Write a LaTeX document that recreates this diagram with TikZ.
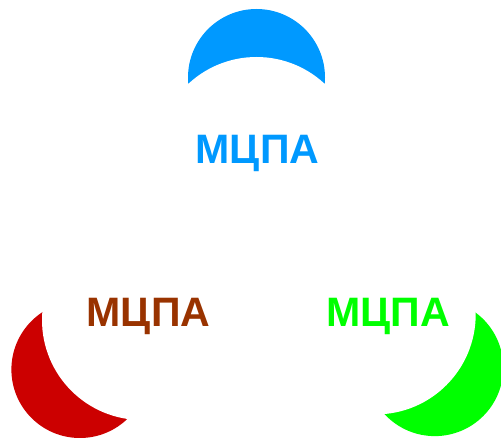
\documentclass[tikz,border=0pt]{standalone}
\usepackage{fontspec}
\setmainfont{Liberation Sans}
\usetikzlibrary{positioning}

\definecolor{mcpablue}{HTML}{0099FF}
\definecolor{mcpared}{HTML}{CC0000}
\definecolor{mcpagreen}{HTML}{00FF00}
\definecolor{mcpabrown}{HTML}{993300}

\tikzset{
  brand/.style={font=\bfseries\fontsize{58.5}{62}\selectfont,inner sep=0pt,anchor=base}
}

\begin{document}
\begin{tikzpicture}[x=0.05cm,y=-0.05cm]
  \useasboundingbox (0,0) rectangle (501,438);
  \clip (0,0) rectangle (501,438);
  % crescents: colour / outer centre / white cut centre
  \foreach \col/\ox/\oy/\wx/\wy in {mcpablue/256.5/77.5/256.5/157,
                                    mcpared/79.9/369.5/142/320,
                                    mcpagreen/434.8/367.6/375.7/314.4}{
    \fill[\col] (\ox,\oy) circle[radius=68.5];
    \begin{scope}
      \clip (\ox,\oy) circle[radius=70];
      \fill[white] (\wx,\wy) circle[radius=100];
    \end{scope}
  }
  \node[brand,mcpablue] (mcpaTop) at (257.5,163.3) {МЦПА};
  \node[brand,mcpabrown] (mcpaLeft) at (148.5,326.5) {МЦПА};
  \node[brand,mcpagreen] (mcpaRight) at (388,326.5) {МЦПА};
\end{tikzpicture}
\end{document}
